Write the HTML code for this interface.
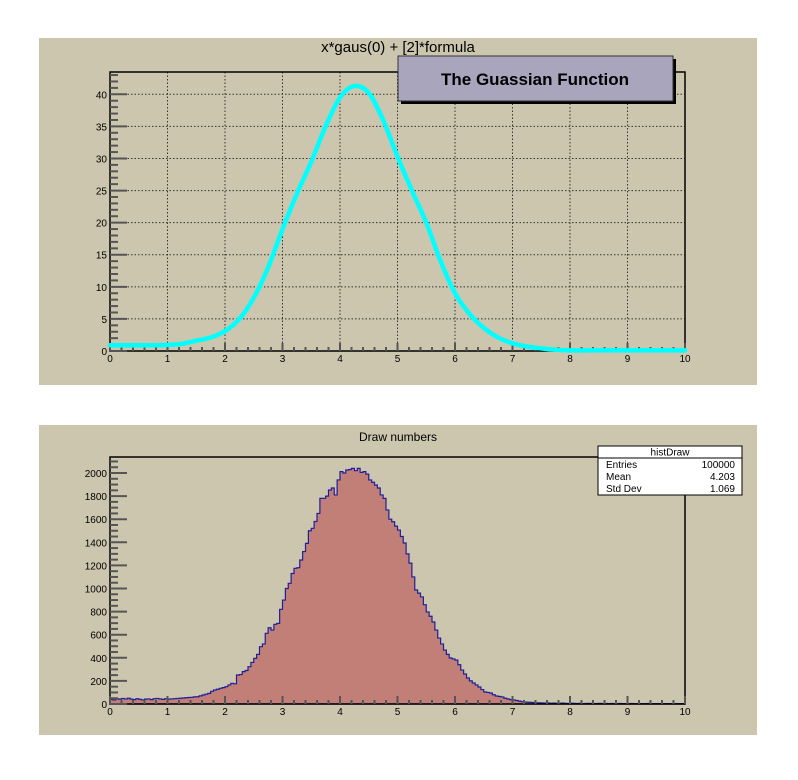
<!DOCTYPE html>
<html><head><meta charset="utf-8"><style>
body{margin:0;background:#fff;width:798px;height:775px;overflow:hidden}
svg text{font-family:"Liberation Sans",sans-serif}
</style></head><body>
<svg id="c" width="798" height="775" xmlns="http://www.w3.org/2000/svg">
<rect x="39" y="38" width="718" height="347" fill="#ccc6ae"/>
<rect x="39" y="425" width="718" height="310" fill="#ccc6ae"/>
<g id="topg"></g>
<g id="botg"></g>
<text x="398" y="52" font-size="15" text-anchor="middle">x*gaus(0) + [2]*formula</text>
<rect x="401" y="59" width="275" height="45" fill="#000"/>
<rect x="398" y="56" width="275" height="45" fill="#a9a5bc" stroke="#333" stroke-width="1"/>
<text x="535" y="85" font-size="17" font-weight="bold" text-anchor="middle">The Guassian Function</text>
<text x="398" y="441" font-size="12" text-anchor="middle">Draw numbers</text>
<g>
<rect x="598" y="446" width="144" height="49" fill="#fff" stroke="#000"/>
<line x1="598" y1="458" x2="742" y2="458" stroke="#000"/>
<text x="670" y="455.5" font-size="10" text-anchor="middle">histDraw</text>
<text x="606" y="468" font-size="10">Entries</text><text x="735" y="468" font-size="10" text-anchor="end">100000</text>
<text x="606" y="480" font-size="10">Mean</text><text x="735" y="480" font-size="10" text-anchor="end">4.203</text>
<text x="606" y="492" font-size="10">Std Dev</text><text x="735" y="492" font-size="10" text-anchor="end">1.069</text>
</g>
</svg>
<script>
const fxVals=[0,0.25,0.5,0.75,1,1.25,1.5,1.75,2,2.25,2.5,2.75,3,3.25,3.5,3.75,4,4.25,4.5,4.75,5,5.25,5.5,5.75,6,6.25,6.5,6.75,7,7.25,7.5,7.75,8,8.5,9,9.5,10];
const fyVals=[0.9,0.9,0.9,0.9,0.95,1.1,1.6,2.1,3.1,5.0,8.3,13,19,24.5,29.5,35,39.5,41.3,40.2,36,30.3,25,20,14,9,5.8,3.6,2.1,1.2,0.7,0.4,0.2,0.1,0.1,0.1,0.1,0.1];
const topYTicks=[0,5,10,15,20,25,30,35,40];
const xTicks=[0,1,2,3,4,5,6,7,8,9,10];
const histCounts=[40,35,45,42,48,44,50,42,38,46,40,35,42,44,38,46,48,44,40,46,42,44,46,48,50,52,54,56,58,62,
63,70,78,85,92,110,121,128,136,142,150,165,179,175,251,255,280,290,323,360,
395,430,496,520,612,660,640,690,698,820,900,1000,1045,1130,1175,1180,1247,1320,1391,1500,
1521,1580,1650,1780,1781,1800,1853,1870,1810,1940,2012,2000,2026,2030,2040,2020,2040,2005,2012,1990,
1940,1920,1896,1870,1810,1780,1680,1600,1578,1540,1506,1450,1394,1300,1220,1100,987,960,927,860,
797,760,710,640,571,520,467,430,398,390,380,340,294,260,225,200,182,165,147,125,
104,100,95,80,69,65,61,50,43,38,35,30,25,20,17,15,14,12,10,10,
9,8,9,7,8,6,7,8,6,5,7,6,5,6,4,5,6,5,4,5,6,4,5,4,5,3,4,5,4,3,4,5,3,4,3,4,3,5,4,3,4,3,3,4,3,2,3,4,3,3];
const botYTicks=[0,200,400,600,800,1000,1200,1400,1600,1800,2000];
const NS='http://www.w3.org/2000/svg';
function mk(p,t,a){const e=document.createElementNS(NS,t);for(const k in a)e.setAttribute(k,a[k]);p.appendChild(e);return e;}
const L=110,R=685;
const sx=v=>L+(v-0)/(10-0)*(R-L);
const T0=72,B0=351,tY=v=>B0-v*(B0-94.3)/40;
const gTop=document.getElementById('topg');
for(const v of xTicks){if(v>0&&v<10){const g=mk(gTop,'line',{x1:sx(v),x2:sx(v),y1:T0,y2:B0,stroke:'#333','stroke-dasharray':'1.5,2'});

}}
for(const v of topYTicks){if(v>0){const g=mk(gTop,'line',{x1:L,x2:R,y1:tY(v),y2:tY(v),stroke:'#333','stroke-dasharray':'1.5,2'});

}}
function axes(p,T,B,yfun,yTicks,yMinor,ymax){
 mk(p,'rect',{x:L,y:T,width:R-L,height:B-T,fill:'none',stroke:'#000','stroke-width':1.5});
 for(let v=0;v<=ymax;v+=yMinor){const y=yfun(v);if(y<T)break;const maj=yTicks.includes(v);
  mk(p,'line',{x1:L,x2:L+(maj?17:8),y1:y,y2:y,stroke:'#555','stroke-width':2});}
 for(const v of yTicks){const t=mk(p,'text',{x:L-3,y:yfun(v)+4,'font-size':10,'text-anchor':'end'});t.textContent=v;
  
  }
 for(let i=0;i<=50;i++){const v=i*0.2,x=sx(v),maj=i%5==0;
  mk(p,'line',{x1:x,x2:x,y1:B,y2:B-(maj?8:4),stroke:'#555','stroke-width':2});}
 for(const v of xTicks){const t=mk(p,'text',{x:sx(v),y:B+11,'font-size':10,'text-anchor':'middle'});t.textContent=v;
  
  }
}
axes(gTop,T0,B0,tY,topYTicks,1,43);
const pts=fxVals.map((x,i)=>[sx(x),tY(fyVals[i])]);
let d='M'+pts[0][0].toFixed(1)+','+pts[0][1].toFixed(1);
for(let i=0;i<pts.length-1;i++){
 const p0=pts[i-1]||pts[i],p1=pts[i],p2=pts[i+1],p3=pts[i+2]||pts[i+1];
 const c1=[p1[0]+(p2[0]-p0[0])/6,p1[1]+(p2[1]-p0[1])/6],c2=[p2[0]-(p3[0]-p1[0])/6,p2[1]-(p3[1]-p1[1])/6];
 d+='C'+c1[0].toFixed(1)+','+c1[1].toFixed(1)+' '+c2[0].toFixed(1)+','+c2[1].toFixed(1)+' '+p2[0].toFixed(1)+','+p2[1].toFixed(1);
}
const cv=mk(gTop,'path',{d:d,fill:'none',stroke:'#00ffff','stroke-width':4.5,'stroke-linejoin':'round','stroke-linecap':'round'});


const T1=457,B1=704,bY=v=>B1-v*(B1-473)/2000;
const gBot=document.getElementById('botg');
const w=10/histCounts.length;
let hd='M'+sx(0)+','+B1;
histCounts.forEach((c,i)=>{hd+='L'+sx(i*w).toFixed(2)+','+bY(c).toFixed(2)+'L'+sx((i+1)*w).toFixed(2)+','+bY(c).toFixed(2);});
hd+='L'+sx(10)+','+B1+'Z';
const hf=mk(gBot,'path',{d:hd,fill:'#c27f77',stroke:'#1f1f99','stroke-width':1.2});


axes(gBot,T1,B1,bY,botYTicks,50,2140);
</script>
</body></html>
